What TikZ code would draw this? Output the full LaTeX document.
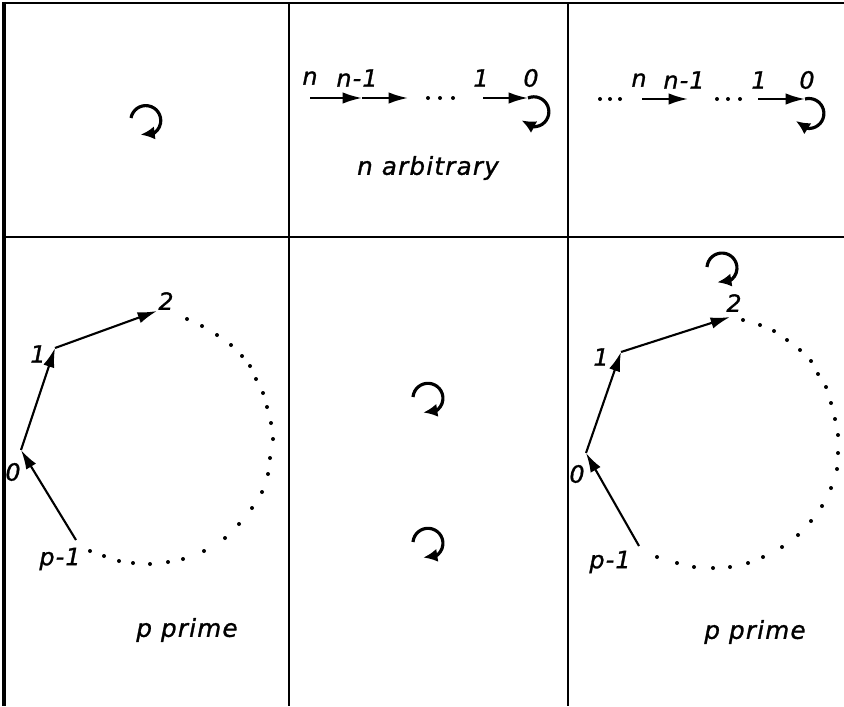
\documentclass[tikz,border=0pt]{standalone}
\usepackage{fontspec}
\usetikzlibrary{arrows.meta,bending}
\newfontfamily\figfont[LetterSpace=5,FakeBold=1.2]{DejaVu Sans}
\tikzset{
  frame/.style={line width=1.5pt},
  edge/.style={-{Latex[length=11pt,width=6.5pt]},line width=1.2pt},
  selfloop/.style={-{Latex[length=8pt,width=7.5pt,flex]},line width=1.8pt},
  vlabel/.style={font=\figfont\itshape\fontsize{13.5}{15}\selectfont,inner sep=0pt},
  caption/.style={font=\figfont\itshape\fontsize{14}{16}\selectfont,inner sep=0pt}
}

\begin{document}
\begin{tikzpicture}[x=0.02cm,y=-0.02cm]
  \useasboundingbox (0,0) rectangle (844,706);
  % Cell borders
  \draw[frame,line width=2pt] (4,2) -- (4,706);
  \draw[frame] (4,3) -- (844,3);
  \draw[frame] (4,237) -- (844,237);
  \draw[frame] (289,3) -- (289,706);
  \draw[frame] (568,3) -- (568,706);

  % Top left: one fixed point
  \coordinate (a0) at (131,118);
  \draw[selfloop] (a0) arc[start angle=190,end angle=470,radius=15];

  % Top middle: chain n -> ... -> 0
  \coordinate (bn) at (310,98);
  \coordinate (bn1) at (362,98);
  \coordinate (bout) at (408,98);
  \coordinate (b1) at (483,98);
  \coordinate (b0) at (528,98);
  \node[vlabel] (lbn) at (310,78) {n};
  \node[vlabel] (lbn1) at (357,78) {n-1};
  \node[vlabel] (lb1) at (481,78) {1};
  \node[vlabel] (lb0) at (531,78) {0};
  \draw[edge] (bn) -- (bn1);
  \draw[edge] (bn1) -- (bout);
  \foreach \x in {428,440,453} \fill (\x,98) circle (2);
  \draw[edge] (b1) -- (b0);
  \draw[selfloop] (b0) arc[start angle=247,end angle=505,radius=15];
  \node[caption] (arb) at (428,168) {n arbitrary};

  % Top right: infinite chain
  \coordinate (cn) at (642,99);
  \coordinate (cn1) at (688,99);
  \coordinate (c1) at (758,99);
  \coordinate (c0) at (805,99);
  \node[vlabel] (lcn) at (639,80) {n};
  \node[vlabel] (lcn1) at (684,80) {n-1};
  \node[vlabel] (lc1) at (759,80) {1};
  \node[vlabel] (lc0) at (807,80) {0};
  \foreach \x in {600,610,620,717,728,740} \fill (\x,99) circle (2);
  \draw[edge] (cn) -- (cn1);
  \draw[edge] (c1) -- (c0);
  \draw[selfloop] (c0) arc[start angle=255,end angle=510,radius=15];

  % Bottom left: cycle of length p
  \coordinate (v0) at (21,450);
  \coordinate (v1) at (55,348);
  \coordinate (v2) at (157,311);
  \coordinate (vp) at (76,540);
  \node[vlabel] (lv0) at (13,472) {0};
  \node[vlabel] (lv1) at (38,354) {1};
  \node[vlabel] (lv2) at (166,301) {2};
  \node[vlabel] (lvp) at (60,559) {p-1};
  \draw[edge] (vp) -- (v0);
  \draw[edge] (v0) -- (v1);
  \draw[edge] (v1) -- (v2);
  \foreach \x/\y in {187/319,202/326,217/335,231/345,242/356,250/366,256/379,
      263/393,267/407,271/423,273/439,270/458,268/474,262/492,252/508,239/524,
      225/538,204/551,183/559,168/562,150/564,133/563,119/561,104/556,90/551}
    \fill (\x,\y) circle (2);
  \node[caption] (lprime) at (187,630) {p\ prime};

  % Bottom middle: two fixed points
  \coordinate (m0) at (413,397);
  \coordinate (m1) at (413,542);
  \draw[selfloop] (m0) arc[start angle=185,end angle=468,radius=15];
  \draw[selfloop] (m1) arc[start angle=185,end angle=468,radius=15];

  % Bottom right: cycle of length p and a fixed point
  \coordinate (w0) at (586,453);
  \coordinate (w1) at (621,352);
  \coordinate (w2) at (730,317);
  \coordinate (wp) at (639,546);
  \coordinate (wf) at (707,267);
  \node[vlabel] (lw0) at (577,474) {0};
  \node[vlabel] (lw1) at (601,357) {1};
  \node[vlabel] (lw2) at (734,303) {2};
  \node[vlabel] (lwp) at (610,562) {p-1};
  \draw[edge] (wp) -- (w0);
  \draw[edge] (w0) -- (w1);
  \draw[edge] (w1) -- (w2);
  \draw[selfloop] (wf) arc[start angle=184,end angle=468,radius=15];
  \foreach \x/\y in {743/320,760/325,774/331,787/340,800/350,811/361,818/374,
      826/387,831/403,835/419,838/435,838/453,837/469,831/488,822/506,811/521,
      798/535,782/547,763/557,748/563,730/567,713/568,694/567,677/563,657/557}
    \fill (\x,\y) circle (2);
  \node[caption] (rprime) at (755,632) {p\ prime};
\end{tikzpicture}
\end{document}
